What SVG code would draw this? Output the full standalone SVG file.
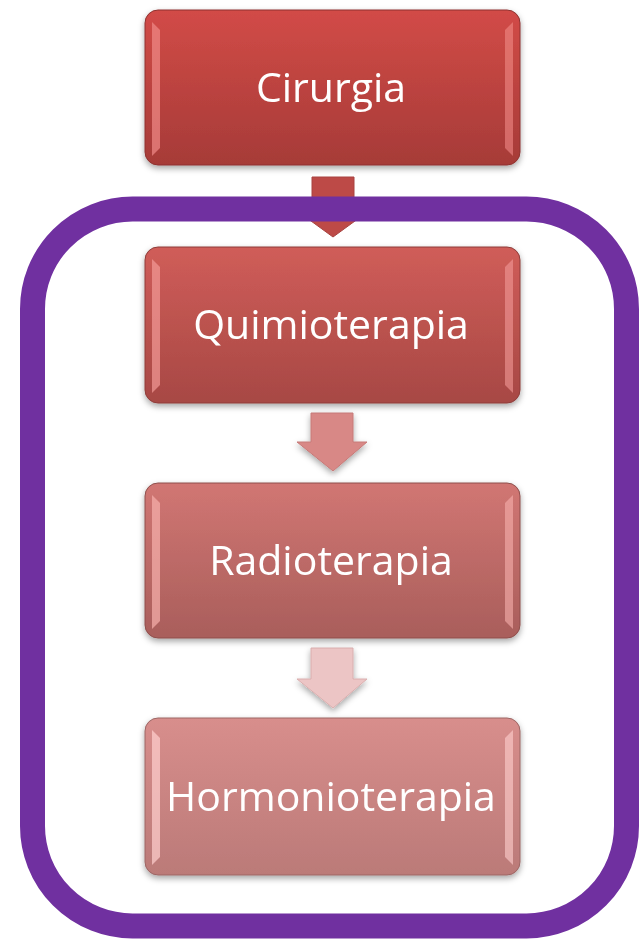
<svg xmlns="http://www.w3.org/2000/svg" width="640" height="940" viewBox="0 0 640 940">
<style>
.lbl{font-family:"Open Sans","Noto Sans","Liberation Sans",sans-serif;font-size:41px;fill:#ffffff;text-anchor:middle}
</style>
<defs>
<linearGradient id="g1" x1="0" y1="0" x2="0" y2="1"><stop offset="0" stop-color="#d24b47"/><stop offset="1" stop-color="#a63b38"/></linearGradient>
<linearGradient id="g2" x1="0" y1="0" x2="0" y2="1"><stop offset="0" stop-color="#d05d59"/><stop offset="1" stop-color="#a74844"/></linearGradient>
<linearGradient id="g3" x1="0" y1="0" x2="0" y2="1"><stop offset="0" stop-color="#d17673"/><stop offset="1" stop-color="#a95e5b"/></linearGradient>
<linearGradient id="g4" x1="0" y1="0" x2="0" y2="1"><stop offset="0" stop-color="#d88e8c"/><stop offset="1" stop-color="#bb7a78"/></linearGradient>
<filter id="sh" x="-10%" y="-10%" width="120%" height="130%"><feDropShadow dx="0" dy="3" stdDeviation="3" flood-color="#000" flood-opacity="0.35"/></filter>
</defs>
<g id="connectors">
<polygon points="312,177 354,177 354,213 366,213 333,237 300,213 312,213" fill="#bd4a47" stroke="#a84340" stroke-width="1"/>
<polygon points="311,413 353,413 353,442 367,442 333,471 297,442 311,442" fill="#d88886" stroke="#c67a78" stroke-width="1" filter="url(#sh)"/>
<polygon points="311,648 353,648 353,679 367,679 333,708 297,679 311,679" fill="#ecc5c5" stroke="#d9aeae" stroke-width="1" filter="url(#sh)"/>
</g>
<g id="frame"><rect x="32.5" y="209" width="594" height="717" rx="100" fill="none" stroke="#7030a0" stroke-width="25"/></g>
<g id="n1" filter="url(#sh)">
<rect x="145" y="10" width="375" height="155" rx="13" fill="url(#g1)" stroke="#8e3330" stroke-width="1"/>
<path d="M152 22 L160 30 L160 148 L152 156" fill="#f08a87" opacity="0.7"/>
<path d="M513 22 L505 30 L505 148 L513 156" fill="#f08a87" opacity="0.6"/>
<text class="lbl" x="331" y="102">Cirurgia</text>
</g>
<g id="n2" filter="url(#sh)">
<rect x="145" y="247" width="375" height="156" rx="13" fill="url(#g2)" stroke="#8e3d3a" stroke-width="1"/>
<path d="M152 259 L160 267 L160 385 L152 393" fill="#f29a97" opacity="0.7"/>
<path d="M513 259 L505 267 L505 385 L513 393" fill="#f29a97" opacity="0.6"/>
<text class="lbl" x="331" y="339">Quimioterapia</text>
</g>
<g id="n3" filter="url(#sh)">
<rect x="145" y="483" width="375" height="155" rx="13" fill="url(#g3)" stroke="#8e4f4c" stroke-width="1"/>
<path d="M152 495 L160 503 L160 621 L152 629" fill="#f7b0ad" opacity="0.7"/>
<path d="M513 495 L505 503 L505 621 L513 629" fill="#f7b0ad" opacity="0.6"/>
<text class="lbl" x="331" y="575">Radioterapia</text>
</g>
<g id="n4" filter="url(#sh)">
<rect x="145" y="718" width="375" height="157" rx="13" fill="url(#g4)" stroke="#9c6664" stroke-width="1"/>
<path d="M152 730 L160 738 L160 857 L152 865" fill="#ffd0cf" opacity="0.7"/>
<path d="M513 730 L505 738 L505 857 L513 865" fill="#ffd0cf" opacity="0.6"/>
<text class="lbl" x="331" y="811">Hormonioterapia</text>
</g>
</svg>
